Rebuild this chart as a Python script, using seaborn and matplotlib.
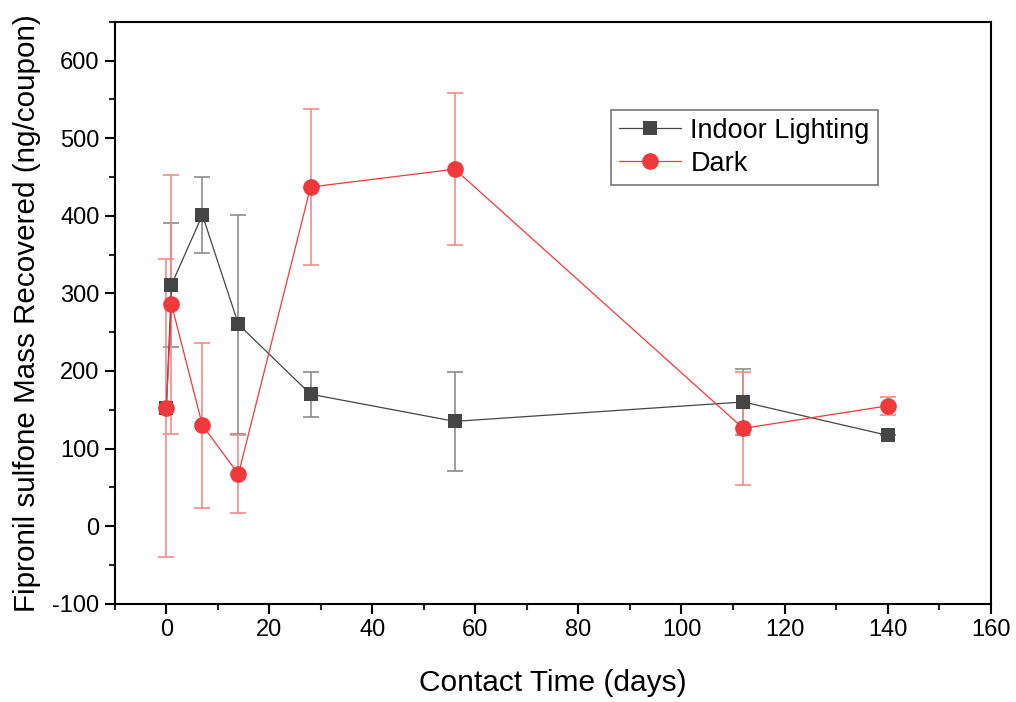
import numpy as np
import pandas as pd
import matplotlib
matplotlib.use("Agg")
import matplotlib.pyplot as plt
import seaborn as sns
from matplotlib.ticker import MultipleLocator, AutoMinorLocator

days = [0, 1, 7, 14, 28, 56, 112, 140]
indoor_mean = [152, 311, 401, 260, 170, 135, 160, 117]
indoor_err = [0, 80, 49, 141, 29, 64, 43, 0]
dark_mean = [152, 286, 130, 67, 437, 460, 126, 155]
dark_err = [192, 167, 106, 50, 100, 98, 73, 12]
series_names = ["Indoor Lighting", "Dark"]

sns.set_theme(style="white")
plt.rcParams['font.family'] = ['Liberation Sans', 'DejaVu Sans']
plt.rcParams['text.color'] = 'black'
plt.rcParams['axes.labelcolor'] = 'black'
plt.rcParams['axes.unicode_minus'] = False

df = pd.DataFrame({
    "day": days * 2,
    "mass": indoor_mean + dark_mean,
    "err": indoor_err + dark_err,
    "series": [series_names[0]] * len(days) + [series_names[1]] * len(days),
})

fig, ax = plt.subplots(figsize=(10.16, 7.02), dpi=100)
fig.subplots_adjust(left=0.113, right=0.975, top=0.969, bottom=0.14)

line_cols = {"Indoor Lighting": "#454545", "Dark": "#f0393b"}
err_cols = {"Indoor Lighting": "#8c8c8c", "Dark": "#f28a8a"}
marks = {"Indoor Lighting": "s", "Dark": "o"}
msz = {"Indoor Lighting": 10, "Dark": 12}

for name in series_names:
    sub = df[df.series == name]
    ax.errorbar(sub.day, sub.mass, yerr=sub.err, fmt="none", ecolor=err_cols[name],
                elinewidth=1.2, capsize=6, capthick=1.2, zorder=2)

for name in series_names:
    sub = df[df.series == name]
    sns.lineplot(data=sub, x="day", y="mass", ax=ax, color=line_cols[name],
                 marker=marks[name], markersize=msz[name], markeredgewidth=0,
                 linewidth=0.9, label=name, zorder=3, estimator=None, sort=False)

ax.set_xlim(-10, 160)
ax.set_ylim(-100, 650)
ax.xaxis.set_major_locator(MultipleLocator(20))
ax.xaxis.set_minor_locator(AutoMinorLocator(2))
ax.yaxis.set_major_locator(MultipleLocator(100))
ax.yaxis.set_minor_locator(AutoMinorLocator(2))
ax.tick_params(axis="both", which="major", direction="out", length=7, width=1.5,
               labelsize=17, colors="black", bottom=True, left=True, pad=4)
ax.tick_params(axis="both", which="minor", direction="out", length=4, width=1.5,
               bottom=True, left=True)
for sp in ax.spines.values():
    sp.set_color("black")
    sp.set_linewidth(1.5)

ax.set_xlabel("Contact Time (days)", fontsize=21.5, labelpad=20)
ax.set_ylabel("Fipronil sulfone Mass Recovered (ng/coupon)", fontsize=21.3, labelpad=8)

leg = ax.legend(loc="upper left", bbox_to_anchor=(0.566, 0.849), fontsize=19.5,
                frameon=True, fancybox=False, edgecolor="#555555",
                handlelength=2.3, borderpad=0.3, labelspacing=0.25, handletextpad=0.35,
                borderaxespad=0)
leg.get_frame().set_linewidth(1.2)

fig.savefig("out.png", dpi=100)
